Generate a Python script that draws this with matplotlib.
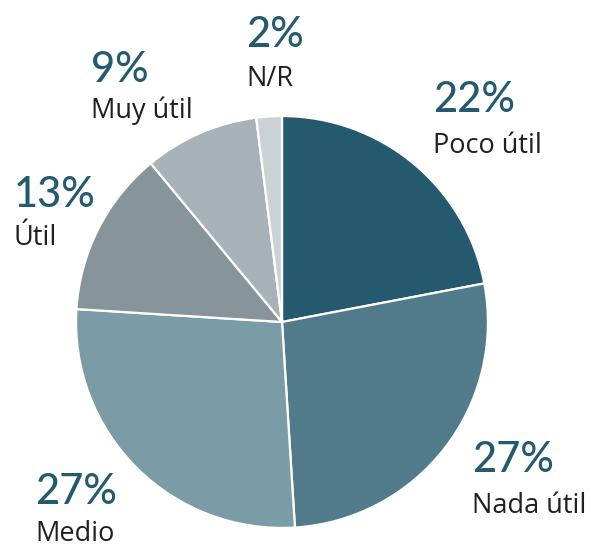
import matplotlib
matplotlib.use("Agg")
import matplotlib.pyplot as plt

categories = ["Poco útil", "Nada útil", "Medio", "Útil", "Muy útil", "N/R"]
values = [22, 27, 27, 13, 9, 2]
pct_labels = ["22%", "27%", "27%", "13%", "9%", "2%"]
colors = ["#255A6E", "#517B8A", "#7B9CA7", "#879499", "#A9B2B8", "#CBD2D5"]

W, H = 592, 549
fig = plt.figure(figsize=(W / 100, H / 100), dpi=100)
cx, cy, r = 282, 322, 208
ax = fig.add_axes([(cx - r) / W, (H - cy - r) / H, 2 * r / W, 2 * r / H])
ax.pie(values, colors=colors, startangle=90, counterclock=False,
       wedgeprops=dict(edgecolor="white", linewidth=1.6))
ax.set_xlim(-1.01, 1.01)
ax.set_ylim(-1.01, 1.01)
ax.set_aspect("equal")
ax.axis("off")

# text anchor positions in pixels: (x, pct baseline, label baseline)
pos = {
    "Poco útil": (433, 112, 153),
    "Nada útil": (472, 472, 513),
    "Medio": (35, 504, 541),
    "Útil": (14, 207, 245),
    "Muy útil": (91, 82, 118),
    "N/R": (246, 47, 86),
}
for cat, pct in zip(categories, pct_labels):
    x, yp, yl = pos[cat]
    fig.text(x / W, 1 - yp / H, pct, fontsize=30, color="#255A6E",
             family="Lato", fontweight="medium", va="baseline", ha="left")
    fig.text(x / W, 1 - yl / H, cat, fontsize=19.5, color="#231F20",
             family="Open Sans", fontweight="normal", va="baseline", ha="left")

fig.savefig("out.png", dpi=100, facecolor="white")
